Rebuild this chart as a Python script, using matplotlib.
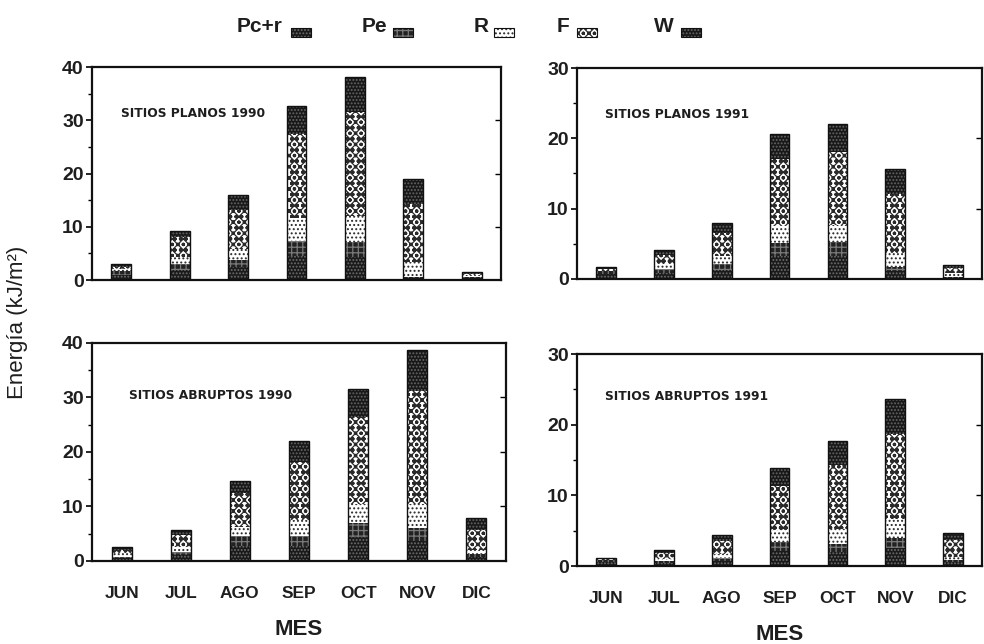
import matplotlib
matplotlib.use("Agg")
import matplotlib.pyplot as plt
from matplotlib.patches import Rectangle
import numpy as np

plt.rcParams["font.family"] = ["Liberation Sans", "DejaVu Sans"]
plt.rcParams["hatch.linewidth"] = 0.9

months = ["JUN", "JUL", "AGO", "SEP", "OCT", "NOV", "DIC"]
components = ["Pc+r", "Pe", "R", "F", "W"]

# energy per component (kJ/m2), stacked bottom to top
planos_1990 = {
    "Pc+r": [1.0, 1.9, 2.4, 4.6, 4.4, 0.3, 0.3],
    "Pe":   [0.6, 1.1, 1.4, 2.8, 2.7, 0.2, 0.2],
    "R":    [0.5, 1.25, 2.1, 4.3, 5.0, 2.85, 0.5],
    "F":    [0.4, 3.75, 7.2, 15.7, 19.5, 10.95, 0.2],
    "W":    [0.6, 1.25, 2.8, 5.3, 6.5, 4.75, 0.3],
}
planos_1991 = {
    "Pc+r": [0.7, 0.9, 1.3, 3.2, 3.3, 1.1, 0.2],
    "Pe":   [0.4, 0.5, 0.8, 1.9, 2.0, 0.65, 0.1],
    "R":    [0.1, 0.7, 1.2, 2.5, 2.4, 2.0, 0.6],
    "F":    [0.2, 1.3, 3.2, 9.5, 10.4, 8.35, 0.6],
    "W":    [0.3, 0.7, 1.4, 3.5, 4.0, 3.5, 0.5],
}
abruptos_1990 = {
    "Pc+r": [0.5, 1.05, 2.8, 2.8, 4.35, 3.7, 0.75],
    "Pe":   [0.3, 0.65, 1.7, 1.7, 2.65, 2.3, 0.45],
    "R":    [0.6, 0.9, 1.8, 3.0, 3.5, 4.5, 0.8],
    "F":    [0.6, 2.2, 6.1, 10.6, 15.9, 20.7, 3.7],
    "W":    [0.6, 0.8, 2.3, 3.9, 5.1, 7.5, 2.1],
}
abruptos_1991 = {
    "Pc+r": [0.5, 0.45, 0.7, 2.1, 1.95, 2.5, 0.5],
    "Pe":   [0.3, 0.25, 0.4, 1.3, 1.2, 1.5, 0.3],
    "R":    [0.1, 0.35, 0.55, 1.75, 2.15, 2.7, 0.5],
    "F":    [0.1, 0.8, 1.9, 6.15, 9.0, 12.05, 2.35],
    "W":    [0.15, 0.35, 0.8, 2.6, 3.4, 4.85, 1.05],
}

# fill / hatch styling for each component
styles = {
    "Pc+r": dict(facecolor="#1a1a1a", edgecolor="#6e6e6e", hatch="....."),
    "Pe":   dict(facecolor="#222222", edgecolor="#7a7a7a", hatch="+++"),
    "R":    dict(facecolor="white", edgecolor="#2a2a2a", hatch="...."),
    "F":    dict(facecolor="white", edgecolor="#2a2a2a", hatch="xxxooo"),
    "W":    dict(facecolor="#181818", edgecolor="#666666", hatch="....."),
}

panels = [
    (planos_1990, "SITIOS PLANOS 1990", [0.0935, 0.5652, 0.4157, 0.3307], 40, (0.07, 0.78), False),
    (planos_1991, "SITIOS PLANOS 1991", [0.5864, 0.5668, 0.4116, 0.3276], 30, (0.07, 0.78), False),
    (abruptos_1990, "SITIOS ABRUPTOS 1990", [0.0935, 0.1289, 0.4207, 0.3385], 40, (0.09, 0.76), True),
    (abruptos_1991, "SITIOS ABRUPTOS 1991", [0.5864, 0.1211, 0.4116, 0.3292], 30, (0.07, 0.80), True),
]

fig = plt.figure(figsize=(9.84, 6.44), dpi=100)
x = np.arange(len(months))
width = 0.34

for data, title, rect, ymax, tpos, show_months in panels:
    ax = fig.add_axes(rect)
    bottom = np.zeros(len(months))
    for comp in components:
        vals = np.array(data[comp])
        ax.bar(x, vals, width, bottom=bottom, linewidth=0, **styles[comp])
        bottom += vals
    # outline of each stacked bar
    ax.bar(x, bottom, width, facecolor="none", edgecolor="#111111", linewidth=1.0)

    ax.set_xlim(-0.5, 6.5)
    ax.set_ylim(0, ymax)
    ax.set_yticks(np.arange(0, ymax + 1, 10))
    ax.set_yticks(np.arange(5, ymax, 10), minor=True)
    ax.tick_params(axis="y", which="major", length=4, width=1.2, labelsize=14, pad=2)
    ax.tick_params(axis="y", which="minor", length=3, width=1.0)
    for lab in ax.get_yticklabels():
        lab.set_fontweight("bold")
        lab.set_color("#1e1e1e")
    sec = ax.secondary_yaxis("right")
    sec.set_yticks(np.arange(10, ymax, 10))
    sec.tick_params(direction="in", length=4, width=1.0, labelright=False)
    sec.spines["right"].set_visible(False)

    ax.set_xticks(x)
    ax.tick_params(axis="x", length=0, labelsize=12.5, pad=18)
    if show_months:
        ax.set_xticklabels(months, fontweight="bold", color="#1e1e1e")
        ax.set_xlabel("MES", fontsize=16, fontweight="bold", labelpad=13, color="#1e1e1e")
    else:
        ax.set_xticklabels([])
    for s in ax.spines.values():
        s.set_linewidth(1.6)
        s.set_color("#111111")
    ax.text(tpos[0], tpos[1], title, transform=ax.transAxes, fontsize=8.8,
            fontweight="bold", color="#1e1e1e", va="center", family="DejaVu Sans")

fig.text(0.018, 0.5, "Energía (kJ/m²)", rotation=90, fontsize=16,
         va="center", ha="center", color="#1e1e1e")

# legend row across the top
legend_items = [("Pc+r", 237, 291), ("Pe", 362, 393), ("R", 474, 494),
                ("F", 557, 577), ("W", 654, 681)]
W_px, H_px = 984, 644
for comp, tx, px in legend_items:
    fig.text(tx / W_px, 1 - 32 / H_px, comp, fontsize=15, color="#1e1e1e",
             va="baseline", ha="left", fontweight="bold")
    fig.patches.append(Rectangle((px / W_px, 1 - 37 / H_px), 20 / W_px, 9 / H_px,
                                 transform=fig.transFigure, linewidth=0,
                                 **styles[comp]))
    fig.patches.append(Rectangle((px / W_px, 1 - 37 / H_px), 20 / W_px, 9 / H_px,
                                 transform=fig.transFigure, facecolor="none",
                                 edgecolor="#111111", linewidth=0.8))

fig.savefig("out.png", dpi=100)
